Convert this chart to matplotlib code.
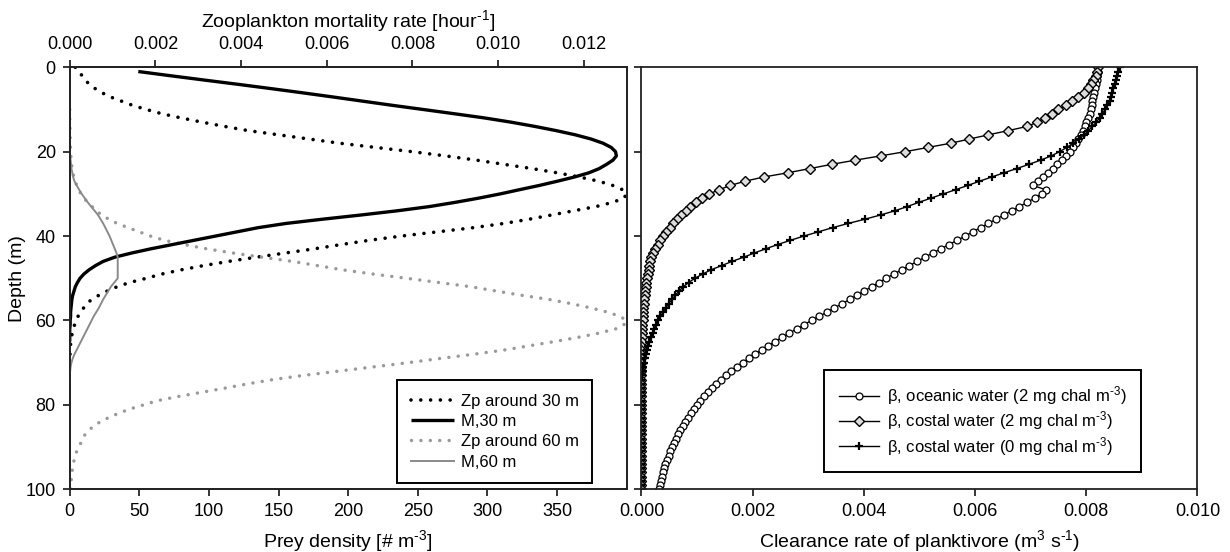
import numpy as np
import matplotlib
matplotlib.use("Agg")
import matplotlib.pyplot as plt
from matplotlib.ticker import FormatStrFormatter

plt.rcParams['font.family'] = ['Liberation Sans', 'DejaVu Sans']
plt.rcParams['mathtext.fontset'] = 'custom'
plt.rcParams['mathtext.rm'] = 'Liberation Sans'
plt.rcParams['mathtext.default'] = 'regular'

# ---------------- left panel: prey density and mortality profiles ----------------
depth_zp30 = np.arange(0, 71)
zp30 = [4, 6, 9, 11, 14, 18, 23, 29, 37, 45,
        55, 66, 80, 95, 111, 128, 150, 172, 194, 220,
        246, 270, 292, 312, 332, 350, 366, 380, 390, 397,
        400, 398, 390, 378, 362, 346, 330, 312, 290, 264,
        238, 215, 195, 176, 155, 134, 114, 96, 80, 66,
        55, 43, 34, 27, 21, 16, 12, 10, 8, 6,
        4.5, 3.5, 2.5, 1.8, 1.2, 0.8, 0.5, 0.3, 0.2, 0.1,
        0]

depth_zp60 = np.arange(10, 101)
zp60 = [0, 0, 0, 0.1, 0.1, 0.2, 0.2, 0.3, 0.4, 0.5,
        0.6, 0.8, 1.0, 1.3, 1.7, 2.2, 3, 4, 5, 6.5,
        8, 10, 13, 16, 19, 23, 28, 34, 42, 50,
        58, 68, 82, 98, 117, 138, 160, 178, 196, 218,
        242, 265, 288, 306, 324, 344, 360, 374, 386, 395,
        400, 398, 392, 380, 365, 348, 330, 312, 290, 266,
        243, 218, 193, 168, 146, 128, 112, 95, 78, 63,
        53, 43, 35, 28, 22, 17, 14, 11, 9.5, 8,
        6.5, 5, 4, 3.2, 2.5, 2, 1.6, 1.3, 1, 0.8,
        0.6]

depth_m30 = np.arange(1, 66)
m30 = [0.00160, 0.00235, 0.00312, 0.00390, 0.00466, 0.00540, 0.00612, 0.00682, 0.00752, 0.00825,
       0.00897, 0.00968, 0.01030, 0.01085, 0.01135, 0.01180, 0.01217, 0.01245, 0.01264, 0.01274,
       0.01276, 0.01268, 0.01253, 0.01236, 0.01212, 0.01178, 0.01138, 0.01096, 0.01050, 0.01005,
       0.00955, 0.00900, 0.00840, 0.00765, 0.00680, 0.00590, 0.00505, 0.00440, 0.00390, 0.00340,
       0.00290, 0.00240, 0.00190, 0.00145, 0.00105, 0.00078, 0.00060, 0.00045, 0.00033, 0.00024,
       0.00018, 0.00013, 0.00010, 0.00007, 0.00005, 0.00004, 0.00003, 0.00002, 0.00002, 0.00001,
       0.00001, 0, 0, 0, 0]

depth_m60 = np.arange(20, 76)
m60 = [0, 0.00001, 0.00002, 0.00003, 0.00004, 0.00006, 0.00008, 0.00011, 0.00016, 0.00022,
       0.00028, 0.00035, 0.00042, 0.00050, 0.00058, 0.00066, 0.00072, 0.00078, 0.00083, 0.00088,
       0.00093, 0.00097, 0.00101, 0.00105, 0.00109, 0.00112, 0.00112, 0.00112, 0.00112, 0.00112,
       0.00112, 0.00104, 0.00096, 0.00090, 0.00084, 0.00078, 0.00073, 0.00068, 0.00062, 0.00056,
       0.00051, 0.00046, 0.00041, 0.00036, 0.00031, 0.00026, 0.00021, 0.00016, 0.00011, 0.00007,
       0.00004, 0.00002, 0.00001, 0, 0, 0]

prey_ticks = [0, 50, 100, 150, 200, 250, 300, 350]
mort_ticks = [0.000, 0.002, 0.004, 0.006, 0.008, 0.010, 0.012]
depth_ticks = [0, 20, 40, 60, 80, 100]

# ---------------- right panel: planktivore clearance rate ----------------
depth_beta = np.arange(0, 101)
beta_oceanic_2 = [0.00822, 0.00821, 0.00820, 0.00819, 0.00818, 0.00816, 0.00814, 0.00813, 0.00811, 0.00810,
                  0.00808, 0.00806, 0.00803, 0.00800, 0.00797, 0.00794, 0.00790, 0.00786, 0.00781, 0.00776,
                  0.00770, 0.00763, 0.00756, 0.00748, 0.00740, 0.00731, 0.00722, 0.00713, 0.00704, 0.00727,
                  0.00720, 0.00707, 0.00694, 0.00680, 0.00666, 0.00652, 0.00638, 0.00624, 0.00610, 0.00596,
                  0.00582, 0.00568, 0.00553, 0.00539, 0.00524, 0.00510, 0.00496, 0.00482, 0.00468, 0.00454,
                  0.00440, 0.00427, 0.00414, 0.00401, 0.00388, 0.00375, 0.00361, 0.00347, 0.00334, 0.00320,
                  0.00306, 0.00292, 0.00279, 0.00266, 0.00253, 0.00240, 0.00228, 0.00216, 0.00204, 0.00193,
                  0.00182, 0.00171, 0.00161, 0.00152, 0.00143, 0.00135, 0.00127, 0.00119, 0.00112, 0.00106,
                  0.00100, 0.00094, 0.00089, 0.00084, 0.00079, 0.00074, 0.00070, 0.00066, 0.00062, 0.00058,
                  0.00055, 0.00052, 0.00049, 0.00046, 0.00043, 0.00041, 0.00039, 0.00037, 0.00035, 0.00033,
                  0.00031]

beta_coastal_2 = [0.00822, 0.00820, 0.00817, 0.00813, 0.00809, 0.00804, 0.00796, 0.00786, 0.00774, 0.00763,
                  0.00750, 0.00739, 0.00726, 0.00712, 0.00694, 0.00660, 0.00624, 0.00590, 0.00556, 0.00515,
                  0.00474, 0.00430, 0.00385, 0.00342, 0.00303, 0.00263, 0.00220, 0.00186, 0.00160, 0.00140,
                  0.00122, 0.00109, 0.00098, 0.00088, 0.00080, 0.00072, 0.00064, 0.00057, 0.00051, 0.00045,
                  0.00038, 0.00033, 0.00029, 0.00025, 0.00021, 0.00018, 0.00016, 0.00014, 0.00013, 0.00011,
                  0.00010, 0.00009, 0.00008, 0.00007, 0.00006, 0.00005, 0.00004, 0.00003, 0.00003, 0.00002,
                  0.00002, 0.00001, 0.00001, 0.00001, 0.00001, 0.00001, 0, 0, 0, 0,
                  0, 0, 0, 0, 0, 0, 0, 0, 0, 0,
                  0, 0, 0, 0, 0, 0, 0, 0, 0, 0,
                  0, 0, 0, 0, 0, 0, 0, 0, 0, 0,
                  0]

beta_coastal_0 = [0.00860, 0.00858, 0.00856, 0.00853, 0.00851, 0.00849, 0.00847, 0.00845, 0.00842, 0.00838,
                  0.00834, 0.00829, 0.00824, 0.00818, 0.00811, 0.00804, 0.00796, 0.00787, 0.00777, 0.00765,
                  0.00752, 0.00737, 0.00718, 0.00697, 0.00675, 0.00652, 0.00630, 0.00608, 0.00587, 0.00565,
                  0.00543, 0.00521, 0.00499, 0.00478, 0.00456, 0.00430, 0.00402, 0.00372, 0.00344, 0.00318,
                  0.00292, 0.00268, 0.00245, 0.00224, 0.00203, 0.00184, 0.00163, 0.00144, 0.00125, 0.00110,
                  0.00096, 0.00085, 0.00075, 0.00068, 0.00061, 0.00055, 0.00049, 0.00044, 0.00039, 0.00034,
                  0.00030, 0.00026, 0.00023, 0.00020, 0.00017, 0.00014, 0.00012, 0.00010, 0.00008, 0.00006,
                  0.00004, 0.00003, 0.00002, 0.00001, 0, 0, 0, 0, 0, 0,
                  0, 0, 0, 0, 0, 0, 0, 0, 0, 0,
                  0, 0, 0, 0, 0, 0, 0, 0, 0, 0,
                  0]

clear_ticks = [0.000, 0.002, 0.004, 0.006, 0.008, 0.010]

# short hyphen for negative exponents, as in the printed axis labels
HY = '\u2010'

# ---------------- figure ----------------
fig = plt.figure(figsize=(12.3, 5.52), dpi=100)
ax_l = fig.add_axes([0.0567, 0.1136, 0.4528, 0.7645])
ax_t = ax_l.twiny()
ax_r = fig.add_axes([0.5215, 0.1136, 0.4520, 0.7645])

SPINE_LW = 1.3
TICK_FS = 13
LABEL_FS = 14

dot_style = (0, (0.01, 2.7))
h_zp30, = ax_l.plot(zp30, depth_zp30, color='black', lw=2.6, linestyle=dot_style,
                    dash_capstyle='round', label='Zp around 30 m')
h_zp60, = ax_l.plot(zp60, depth_zp60, color='#9a9a9a', lw=2.5, linestyle=dot_style,
                    dash_capstyle='round', label='Zp around 60 m')
h_m30, = ax_t.plot(m30, depth_m30, color='black', lw=2.4, solid_capstyle='butt', label='M,30 m')
h_m60, = ax_t.plot(m60, depth_m60, color='#8a8a8a', lw=1.4, label='M,60 m')

ax_l.set_xlim(0, 400)
ax_t.set_xlim(0, 0.013)
ax_l.set_ylim(100, 0)
ax_l.set_xticks(prey_ticks)
ax_l.set_yticks(depth_ticks)
ax_t.set_xticks(mort_ticks)
ax_t.xaxis.set_major_formatter(FormatStrFormatter('%.3f'))

ax_l.set_xlabel('Prey density [# m$^{' + HY + '3}$]', fontsize=LABEL_FS, labelpad=6)
ax_l.set_ylabel('Depth (m)', fontsize=LABEL_FS, labelpad=0)
ax_t.set_xlabel('Zooplankton mortality rate [hour$^{' + HY + '1}$]', fontsize=LABEL_FS, labelpad=7)

for a in (ax_l, ax_t):
    for s in a.spines.values():
        s.set_linewidth(SPINE_LW)
        s.set_color('#222222')
ax_l.tick_params(axis='both', direction='out', length=5, width=1.1, labelsize=TICK_FS, pad=5)
ax_t.tick_params(axis='x', direction='out', length=5, width=1.1, labelsize=TICK_FS, pad=5)

leg_l = ax_t.legend(handles=[h_zp30, h_m30, h_zp60, h_m60], loc='lower right',
                    bbox_to_anchor=(0.938, 0.015), borderaxespad=0, fontsize=12,
                    frameon=True, fancybox=False, edgecolor='black', framealpha=1,
                    handlelength=2.6, handletextpad=0.4, labelspacing=0.32, borderpad=0.8)
leg_l.get_frame().set_linewidth(1.4)

# right panel
h_oc, = ax_r.plot(beta_oceanic_2, depth_beta, color='black', lw=1.0, marker='o', ms=5.0,
                  mfc='white', mec='black', mew=0.9,
                  label=r'$\beta$, oceanic water (2 mg chal m$^{' + HY + '3}$)')
h_c2, = ax_r.plot(beta_coastal_2, depth_beta, color='black', lw=1.0, marker='D', ms=4.6,
                  mfc='#dddddd', mec='black', mew=1.0,
                  label=r'$\beta$, costal water (2 mg chal m$^{' + HY + '3}$)')
h_c0, = ax_r.plot(beta_coastal_0, depth_beta, color='black', lw=1.0, marker='+', ms=5.5,
                  mec='black', mew=1.6,
                  label=r'$\beta$, costal water (0 mg chal m$^{' + HY + '3}$)')

ax_r.set_xlim(0, 0.010)
ax_r.set_ylim(100, 0)
ax_r.set_xticks(clear_ticks)
ax_r.set_yticks(depth_ticks)
ax_r.set_yticklabels([])
ax_r.xaxis.set_major_formatter(FormatStrFormatter('%.3f'))
ax_r.set_xlabel('Clearance rate of planktivore (m$^3$ s$^{' + HY + '1}$)', fontsize=LABEL_FS, labelpad=6)
for s in ax_r.spines.values():
    s.set_linewidth(SPINE_LW)
    s.set_color('#222222')
ax_r.tick_params(axis='both', direction='out', length=5, width=1.1, labelsize=TICK_FS, pad=5)

leg_r = ax_r.legend(handles=[h_oc, h_c2, h_c0], loc='lower right',
                    bbox_to_anchor=(0.898, 0.041), borderaxespad=0, fontsize=12,
                    frameon=True, fancybox=False, edgecolor='black', framealpha=1,
                    handlelength=2.4, handletextpad=0.5, labelspacing=0.15, borderpad=0.85)
leg_r.get_frame().set_linewidth(1.4)

fig.savefig('out.png', dpi=100, facecolor='white')
